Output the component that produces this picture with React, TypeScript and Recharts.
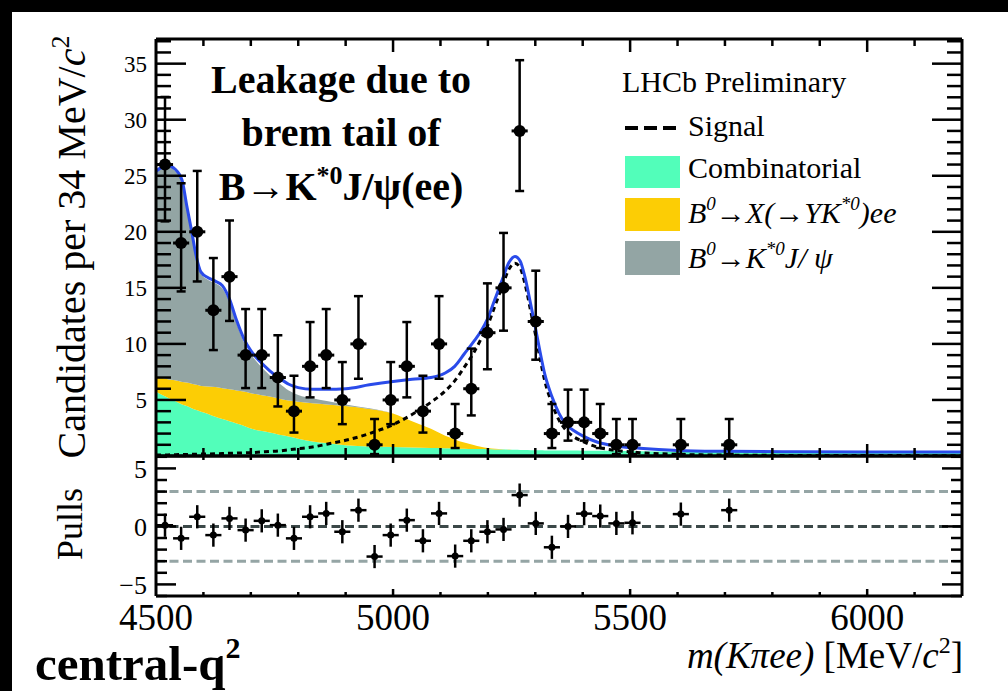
import React from 'react';
import {
  ComposedChart,
  Area,
  Line,
  Scatter,
  ErrorBar,
  XAxis,
  YAxis,
  ReferenceLine,
} from 'recharts';

document.body.style.margin = '0';

const SERIF = '"Liberation Serif", "Times New Roman", serif';

const COMB_COLOR = '#52feba';
const PRC_COLOR = '#fccd05';
const JPSI_COLOR = '#93a5a4';
const FIT_COLOR = '#2a4bea';

// Fit components, candidates per 34 MeV/c2, sampled in m(K pi e e)
const massGrid = [
  4500, 4510, 4525, 4540, 4555, 4565, 4575, 4585, 4595, 4610,
  4625, 4640, 4655, 4670, 4685, 4700, 4720, 4740, 4760, 4780,
  4800, 4830, 4860, 4900, 4950, 5000, 5040, 5080, 5110, 5130,
  5150, 5170, 5185, 5200, 5215, 5230, 5245, 5257, 5268, 5278,
  5290, 5300, 5310, 5320, 5335, 5350, 5365, 5380, 5400, 5430,
  5470, 5520, 5600, 5700, 5850, 6000, 6200,
];
const combinatorial = [
  5.75, 5.5, 5.2, 4.9, 4.6, 4.45, 4.25, 4.1, 3.95, 3.75,
  3.5, 3.3, 3.1, 2.9, 2.7, 2.45, 2.25, 2.1, 1.9, 1.75,
  1.55, 1.3, 1.15, 0.95, 0.85, 0.8, 0.76, 0.72, 0.7, 0.68,
  0.65, 0.63, 0.62, 0.6, 0.59, 0.58, 0.56, 0.55, 0.54, 0.53,
  0.52, 0.52, 0.51, 0.5, 0.5, 0.49, 0.48, 0.48, 0.47, 0.46,
  0.44, 0.42, 0.39, 0.36, 0.33, 0.31, 0.29,
];
const partReco = [
  1.35, 1.5, 1.65, 1.85, 2.0, 2.1, 2.2, 2.25, 2.3, 2.45,
  2.65, 2.75, 2.85, 2.95, 3.05, 3.15, 3.2, 3.2, 3.2, 3.2,
  3.3, 3.4, 3.45, 3.5, 3.35, 3.0, 2.35, 1.7, 1.1, 0.8,
  0.55, 0.35, 0.2, 0.12, 0.06, 0.03, 0.01, 0, 0, 0,
  0, 0, 0, 0, 0, 0, 0, 0, 0, 0,
  0, 0, 0, 0, 0, 0, 0,
];
const jpsiLeak = [
  18.2, 18.6, 18.95, 18.7, 17.9, 15.6, 13.5, 11.3, 10.0, 9.5,
  9.25, 8.9, 7.8, 6.0, 4.45, 3.5, 2.6, 1.9, 1.4, 0.9,
  0.6, 0.45, 0.3, 0.15, 0.05, 0, 0, 0, 0, 0,
  0, 0, 0, 0, 0, 0, 0, 0, 0, 0,
  0, 0, 0, 0, 0, 0, 0, 0, 0, 0,
  0, 0, 0, 0, 0, 0, 0,
];
const signalShape = [
  0.1, 0.1, 0.1, 0.12, 0.13, 0.14, 0.15, 0.16, 0.17, 0.18,
  0.2, 0.22, 0.24, 0.26, 0.28, 0.3, 0.35, 0.4, 0.45, 0.55,
  0.65, 0.8, 1.05, 1.4, 2.0, 2.8, 3.7, 4.8, 5.8, 6.7,
  7.9, 9.2, 10.4, 11.7, 13.4, 15.1, 16.7, 17.2, 16.8, 15.4,
  13.0, 10.9, 8.7, 6.7, 4.7, 3.2, 2.3, 1.75, 1.3, 0.8,
  0.5, 0.3, 0.15, 0.08, 0.05, 0.04, 0.03,
];
const totalFit = [
  25.4, 25.7, 25.9, 25.6, 24.6, 22.3, 20.1, 17.8, 16.4, 15.9,
  15.6, 15.2, 14.0, 12.1, 10.5, 9.4, 8.4, 7.6, 6.95, 6.4,
  6.1, 5.95, 5.95, 6.0, 6.35, 6.65, 6.85, 7.0, 7.4, 8.0,
  9.1, 10.2, 11.1, 12.3, 14.0, 15.7, 17.3, 17.8, 17.4, 16.0,
  13.6, 11.5, 9.3, 7.3, 5.3, 3.8, 2.8, 2.3, 1.8, 1.25,
  0.9, 0.7, 0.5, 0.42, 0.38, 0.36, 0.35,
];

// Non-empty bins of the data histogram
const binCentres = [
  4519, 4553, 4587, 4621, 4655, 4689, 4723, 4757, 4791, 4825,
  4859, 4893, 4927, 4961, 4995, 5029, 5063, 5097, 5131, 5165,
  5199, 5233, 5267, 5301, 5335, 5369, 5403, 5437, 5471, 5505,
  5607, 5709,
];
const counts = [
  26, 19, 20, 13, 16, 9, 9, 7, 4, 8,
  9, 5, 10, 1, 5, 8, 4, 10, 2, 6,
  11, 15, 29, 12, 2, 3, 3, 2, 1, 1,
  1, 1,
];
const errLow = [
  5.07, 4.32, 4.43, 3.55, 3.95, 2.94, 2.94, 2.58, 1.91, 2.77,
  2.94, 2.16, 3.11, 0.83, 2.16, 2.77, 1.91, 3.11, 1.29, 2.38,
  3.26, 3.82, 5.36, 3.41, 1.29, 1.63, 1.63, 1.29, 0.83, 0.83,
  0.83, 0.83,
];
const errHigh = [
  6.03, 5.33, 5.43, 4.66, 5.01, 4.11, 4.11, 3.77, 3.16, 3.95,
  4.11, 3.38, 4.26, 2.3, 3.38, 3.95, 3.16, 4.26, 2.64, 3.58,
  4.4, 4.9, 6.31, 4.53, 2.64, 2.92, 2.92, 2.64, 2.3, 2.3,
  2.3, 2.3,
];
const pulls = [
  0.1, -1.03, 0.83, -0.75, 0.69, -0.32, 0.48, 0.11, -1.03, 0.83,
  1.12, -0.46, 1.4, -2.6, -0.75, 0.54, -1.24, 1.12, -2.56, -1.24,
  -0.46, -0.26, 2.7, 0.26, -1.8, 0.0, 1.1, 0.89, 0.26, 0.31,
  1.06, 1.4,
];

const BIN_HALF = 17;
const X_DOMAIN: [number, number] = [4500, 6200];
const MAIN_Y: [number, number] = [0, 37.2];
const PULL_Y: [number, number] = [-6, 6.07];
const X_LABELS = [4500, 5000, 5500, 6000];

// page layout of the two frames
const W = 1008;
const H = 691;
const PLOT_LEFT = 156;
const PLOT_RIGHT = 962;
const MAIN_TOP = 39;
const MAIN_BOTTOM = 456;
const PULL_TOP = 456;
const PULL_BOTTOM = 596;

const fitRows = massGrid.map((m, i) => ({
  m,
  comb: combinatorial[i],
  prc: partReco[i],
  jpsi: jpsiLeak[i],
  sig: signalShape[i],
  total: totalFit[i],
}));

const dataRows = binCentres.map((m, i) => ({
  m,
  n: counts[i],
  nErr: [errLow[i], errHigh[i]],
  half: BIN_HALF,
}));

const pullRows = binCentres.map((m, i) => ({
  m,
  pull: pulls[i],
  pullErr: 1,
  half: BIN_HALF,
}));

type Pt = { x: number; y: number };
type Seg = [Pt, Pt];

// inward tick marks on all four sides of a frame, lengths given in px
function frameTicks(
  yDomain: [number, number],
  top: number,
  bottom: number,
  len: { yMaj: number; yMin: number; xTopMaj: number; xTopMin: number; xBotMaj: number; xBotMin: number }
): Seg[] {
  const mevPerPx = (X_DOMAIN[1] - X_DOMAIN[0]) / (PLOT_RIGHT - PLOT_LEFT);
  const unitPerPx = (yDomain[1] - yDomain[0]) / (bottom - top);
  const segs: Seg[] = [];
  for (let v = Math.ceil(yDomain[0]); v <= yDomain[1]; v++) {
    const dx = (v % 5 === 0 ? len.yMaj : len.yMin) * mevPerPx;
    segs.push([{ x: X_DOMAIN[0], y: v }, { x: X_DOMAIN[0] + dx, y: v }]);
    segs.push([{ x: X_DOMAIN[1] - dx, y: v }, { x: X_DOMAIN[1], y: v }]);
  }
  for (let m = 4600; m < X_DOMAIN[1]; m += 100) {
    const major = m % 500 === 0;
    const dTop = (major ? len.xTopMaj : len.xTopMin) * unitPerPx;
    const dBot = (major ? len.xBotMaj : len.xBotMin) * unitPerPx;
    segs.push([{ x: m, y: yDomain[1] }, { x: m, y: yDomain[1] - dTop }]);
    segs.push([{ x: m, y: yDomain[0] }, { x: m, y: yDomain[0] + dBot }]);
  }
  return segs;
}

const mainTicks = frameTicks(MAIN_Y, MAIN_TOP, MAIN_BOTTOM, {
  yMaj: 30, yMin: 15, xTopMaj: 13, xTopMin: 7, xBotMaj: 12, xBotMin: 8,
});
const pullTicks = frameTicks(PULL_Y, PULL_TOP, PULL_BOTTOM, {
  yMaj: 20, yMin: 11, xTopMaj: 7, xTopMin: 4, xBotMaj: 7, xBotMin: 4,
});

function frameLines(yDomain: [number, number], prefix: string) {
  return [
    <ReferenceLine key={`${prefix}-l`} x={X_DOMAIN[0]} stroke="#000" strokeWidth={3} ifOverflow="visible" />,
    <ReferenceLine key={`${prefix}-r`} x={X_DOMAIN[1]} stroke="#000" strokeWidth={3} ifOverflow="visible" />,
    <ReferenceLine key={`${prefix}-b`} y={yDomain[0]} stroke="#000" strokeWidth={3} ifOverflow="visible" />,
    <ReferenceLine key={`${prefix}-t`} y={yDomain[1]} stroke="#000" strokeWidth={3} ifOverflow="visible" />,
  ];
}

function tickLines(segs: Seg[], prefix: string) {
  return segs.map((s, i) => (
    <ReferenceLine key={`${prefix}-${i}`} segment={s} stroke="#000" strokeWidth={2.5} ifOverflow="visible" />
  ));
}

const dataMarker = (props: { cx?: number; cy?: number }) => (
  <circle cx={props.cx} cy={props.cy} r={6} fill="#000" />
);
const pullMarker = (props: { cx?: number; cy?: number }) => (
  <circle cx={props.cx} cy={props.cy} r={3.5} fill="#000" />
);

const tickFont = { fill: '#000', fontFamily: SERIF, style: { fontFamily: SERIF } };

function MainPanel() {
  return (
    <ComposedChart
      width={W}
      height={H}
      data={fitRows}
      margin={{ top: MAIN_TOP, right: W - PLOT_RIGHT, bottom: H - MAIN_BOTTOM, left: PLOT_LEFT - 60 }}
    >
      <XAxis dataKey="m" type="number" domain={X_DOMAIN} allowDataOverflow hide />
      <YAxis
        type="number"
        domain={MAIN_Y}
        allowDataOverflow
        width={60}
        ticks={[5, 10, 15, 20, 25, 30, 35]}
        interval={0}
        axisLine={false}
        tickLine={false}
        tickSize={0}
        tickMargin={9}
        tick={{ ...tickFont, fontSize: 23 }}
      />
      <Area dataKey="comb" stackId="bkg" type="monotone" fill={COMB_COLOR} fillOpacity={1} stroke="none" isAnimationActive={false} />
      <Area dataKey="prc" stackId="bkg" type="monotone" fill={PRC_COLOR} fillOpacity={1} stroke="none" isAnimationActive={false} />
      <Area dataKey="jpsi" stackId="bkg" type="monotone" fill={JPSI_COLOR} fillOpacity={1} stroke="none" isAnimationActive={false} />
      <Line dataKey="sig" type="monotone" stroke="#000" strokeWidth={3} strokeDasharray="5 4" dot={false} activeDot={false} isAnimationActive={false} />
      <Line dataKey="total" type="monotone" stroke={FIT_COLOR} strokeWidth={3} dot={false} activeDot={false} isAnimationActive={false} />
      <Scatter data={dataRows} dataKey="n" shape={dataMarker} isAnimationActive={false}>
        <ErrorBar dataKey="nErr" direction="y" width={4.5} stroke="#000" strokeWidth={2.5} />
        <ErrorBar dataKey="half" direction="x" width={0} stroke="#000" strokeWidth={3} />
      </Scatter>
      {tickLines(mainTicks, 'mt')}
      {frameLines(MAIN_Y, 'mf')}
    </ComposedChart>
  );
}

function PullPanel() {
  return (
    <ComposedChart
      width={W}
      height={H}
      margin={{ top: PULL_TOP, right: W - PLOT_RIGHT, bottom: H - PULL_BOTTOM - 30, left: PLOT_LEFT - 60 }}
    >
      <XAxis
        dataKey="m"
        type="number"
        domain={X_DOMAIN}
        allowDataOverflow
        height={30}
        ticks={X_LABELS}
        interval={0}
        axisLine={false}
        tickLine={false}
        tickSize={0}
        tickMargin={8}
        tick={{ ...tickFont, fontSize: 37 }}
      />
      <YAxis
        type="number"
        domain={PULL_Y}
        allowDataOverflow
        width={60}
        ticks={[-5, 0, 5]}
        interval={0}
        axisLine={false}
        tickLine={false}
        tickSize={0}
        tickMargin={9}
        tickFormatter={(v: number) => (v < 0 ? `\u2212${Math.abs(v)}` : `${v}`)}
        tick={{ ...tickFont, fontSize: 26 }}
      />
      <ReferenceLine y={3} stroke="#95a5a5" strokeWidth={3} strokeDasharray="9 4.5" />
      <ReferenceLine y={-3} stroke="#95a5a5" strokeWidth={3} strokeDasharray="9 4.5" />
      <ReferenceLine y={0} stroke="#3b4848" strokeWidth={3} strokeDasharray="9 4.5" />
      <Scatter data={pullRows} dataKey="pull" shape={pullMarker} isAnimationActive={false}>
        <ErrorBar dataKey="pullErr" direction="y" width={0} stroke="#000" strokeWidth={2.5} />
        <ErrorBar dataKey="half" direction="x" width={0} stroke="#000" strokeWidth={2.5} />
      </Scatter>
      {tickLines(pullTicks, 'pt')}
      {frameLines(PULL_Y, 'pf')}
    </ComposedChart>
  );
}

function Annotations() {
  return (
    <svg
      width={W}
      height={H}
      style={{ position: 'absolute', left: 0, top: 0, pointerEvents: 'none' }}
      fontFamily={SERIF}
      fill="#000"
    >
      <g fontWeight="bold" fontSize={40} textAnchor="middle">
        <text x={341} y={93}>Leakage due to</text>
        <text x={341} y={146}>brem tail of</text>
        <text x={341} y={200}>
          B→K<tspan fontSize={26} dy={-16}>*0</tspan>
          <tspan dy={16}>J/ψ(ee)</tspan>
        </text>
      </g>

      <g fontSize={30}>
        <text x={622} y={92}>LHCb Preliminary</text>
        <line x1={625} x2={678} y1={128} y2={128} stroke="#000" strokeWidth={4} strokeDasharray="13 6" />
        <text x={688} y={136}>Signal</text>
        <rect x={625} y={156} width={55} height={32} fill={COMB_COLOR} />
        <text x={688} y={178}>Combinatorial</text>
        <rect x={625} y={198} width={55} height={33} fill={PRC_COLOR} />
        <text x={688} y={223} fontStyle="italic">
          B<tspan fontSize={19} dy={-13}>0</tspan>
          <tspan dy={13}>→X(→YK</tspan>
          <tspan fontSize={19} dy={-13}>*0</tspan>
          <tspan dy={13}>)ee</tspan>
        </text>
        <rect x={625} y={241} width={55} height={34} fill={JPSI_COLOR} />
        <text x={688} y={268} fontStyle="italic">
          B<tspan fontSize={19} dy={-13}>0</tspan>
          <tspan dy={13}>→K</tspan>
          <tspan fontSize={19} dy={-13}>*0</tspan>
          <tspan dy={13}>J/ ψ</tspan>
        </text>
      </g>

      <text transform="translate(85,247) rotate(-90)" textAnchor="middle" fontSize={40}>
        Candidates per 34 MeV/<tspan fontStyle="italic">c</tspan>
        <tspan fontSize={26} dy={-16}>2</tspan>
      </text>
      <text transform="translate(82,524) rotate(-90)" textAnchor="middle" fontSize={36}>
        Pulls
      </text>

      <text x={35} y={680} fontWeight="bold" fontSize={49}>
        central-q<tspan fontSize={30} dy={-22}>2</tspan>
      </text>
      <text x={963} y={668} textAnchor="end" fontSize={37}>
        <tspan fontStyle="italic">m(Kπee)</tspan> [MeV/<tspan fontStyle="italic">c</tspan>
        <tspan fontSize={24} dy={-15}>2</tspan>
        <tspan dy={15}>]</tspan>
      </text>
    </svg>
  );
}

export default function App() {
  return (
    <div
      style={{
        position: 'relative',
        width: W,
        height: H,
        background: '#000',
        overflow: 'hidden',
        fontFamily: SERIF,
      }}
    >
      <div style={{ position: 'absolute', left: 12, top: 12, right: 0, bottom: 0, background: '#fff' }} />
      <div style={{ position: 'absolute', left: 0, top: 0 }}>
        <MainPanel />
      </div>
      <div style={{ position: 'absolute', left: 0, top: 0 }}>
        <PullPanel />
      </div>
      <Annotations />
    </div>
  );
}
